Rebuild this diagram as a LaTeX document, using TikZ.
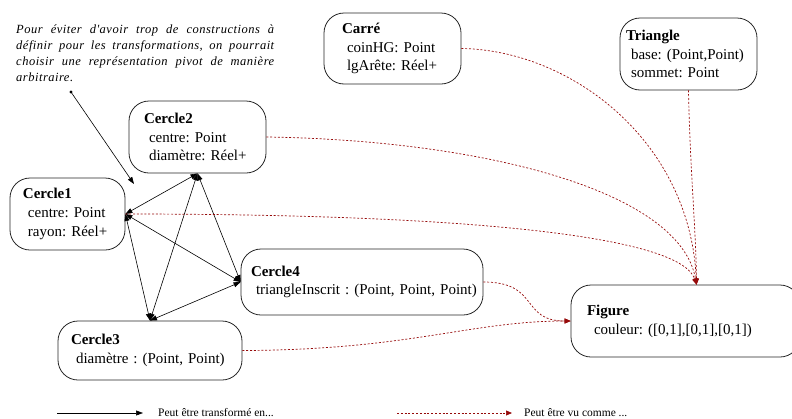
\documentclass[tikz,border=0pt]{standalone}
\usepackage{fontspec}
\setmainfont{Liberation Serif}
\newfontfamily\notefont[LetterSpace=4,ItalicFont={Liberation Serif Italic}]{Liberation Serif}
\usetikzlibrary{arrows.meta}

\definecolor{rougeF}{RGB}{150,10,10}

\newcommand{\ligne}[1]{\leavevmode\hbox to 258pt{\spaceskip=3pt plus 20pt #1}}

\tikzset{
  boite/.style={draw=black!85, line width=0.8pt, rounded corners=20pt, align=left,
    inner ysep=0pt, font=\fontsize{15}{18.8}\selectfont\frenchspacing},
  pointe/.style={-{Triangle[length=7pt,width=5pt]}},
  transf/.style={{Triangle[length=7pt,width=5pt]}-{Triangle[length=7pt,width=5pt]}, line width=0.6pt},
  vucomme/.style={-{Triangle[length=6pt,width=5pt]}, draw=rougeF, dash pattern=on 2pt off 1.8pt, line width=0.7pt}
}

\begin{document}
\frenchspacing
\begin{tikzpicture}[x=1pt,y=-1pt]
\useasboundingbox (0,0) rectangle (792,418);

 \node[boite, minimum height=72pt, inner xsep=13pt, text width=89pt] (cercle1) at (67.5,214)
   {\mbox{\textbf{Cercle1}}\\ \mbox{\ centre: Point}\\ \mbox{\ rayon: Réel+}};
 \node[boite, minimum height=72pt, inner xsep=15pt, text width=107pt] (cercle2) at (197.5,137)
   {\mbox{\textbf{Cercle2}}\\ \mbox{\ centre: Point}\\ \mbox{\ diamètre: Réel+}};
 \node[boite, minimum height=59pt, inner xsep=13pt, text width=158pt] (cercle3) at (150,350.5)
   {\mbox{\textbf{Cercle3}}\\ \mbox{\ diamètre : (Point, Point)}};
 \node[boite, minimum height=66pt, inner xsep=10pt, text width=222pt] (cercle4) at (362,282)
   {\mbox{\textbf{Cercle4}}\\ \mbox{\ triangleInscrit : (Point, Point, Point)}};
 \node[boite, minimum height=71pt, inner xsep=18pt, text width=101pt] (carre) at (392.5,48.5)
   {\mbox{\textbf{Carré}}\\ \mbox{\ coinHG: Point}\\ \mbox{\ lgArête: Réel+}};
 \node[boite, minimum height=72pt, inner xsep=6pt, text width=125pt] (triangle) at (688.5,54)
   {\mbox{\textbf{Triangle}}\\ \mbox{\ base: (Point,Point)}\\ \mbox{\ sommet: Point}};
 \node[boite, minimum height=72pt, inner xsep=16pt, text width=197pt] (figure) at (685.5,321)
   {\mbox{\textbf{Figure}}\\ \mbox{\hspace{7pt}couleur: ([0,1],[0,1],[0,1])}};

 \node[anchor=north west, inner sep=0pt, text width=258pt, align=left,
   font=\notefont\itshape\fontsize{12.5}{16}\selectfont] (note) at (16,25)
   {\ligne{Pour éviter d'avoir trop de constructions à}\\
    \ligne{définir pour les transformations, on pourrait}\\
    \ligne{choisir une représentation pivot de manière}\\
    arbitraire.};

 \coordinate (dot) at (71,92);
 \coordinate (cible) at (134,184);
 \coordinate (fig) at ([xshift=11pt]figure.north);

% fleche de la note
\fill (dot) circle (1.6pt);
\draw[pointe, line width=0.6pt] (dot) -- (cible);

% transformations
\draw[transf] (cercle1.east) -- (cercle2.south);
\draw[transf] (cercle1.east) -- (cercle4.west);
\draw[transf] (cercle1.east) -- (cercle3.north);
\draw[transf] (cercle2.south) -- (cercle3.north);
\draw[transf] (cercle2.south) -- (cercle4.west);
\draw[transf] (cercle3.north) -- (cercle4.west);

% vu comme
\draw[vucomme] (cercle2.east) .. controls (480,140) and (680,190) .. (fig);
\draw[vucomme] (carre.east) .. controls (570,50) and (690,140) .. (fig);
\draw[vucomme] (triangle.south) .. controls (690,170) and (696,230) .. (fig);
\draw[vucomme] (cercle1.east) .. controls (460,214) and (680,235) .. (fig);
\draw[vucomme] (cercle4.east) .. controls (540,282) and (520,321) .. (figure.west);
\draw[vucomme] (cercle3.east) .. controls (410,350) and (470,321) .. (figure.west);

% legende
 \coordinate (legA) at (57,413);
 \coordinate (legB) at (143,413);
 \coordinate (legC) at (397,413);
 \coordinate (legD) at (512,413);
\draw[pointe, line width=0.6pt] (legA) -- (legB);
\draw[vucomme] (legC) -- (legD);
 \node[anchor=west, inner sep=0pt, font=\fontsize{11.5}{13}\selectfont] (legT1) at (158,413) {Peut être transformé en...};
 \node[anchor=west, inner sep=0pt, font=\fontsize{11.5}{13}\selectfont] (legT2) at (524,413) {Peut être vu comme ...};
\end{tikzpicture}
\end{document}
